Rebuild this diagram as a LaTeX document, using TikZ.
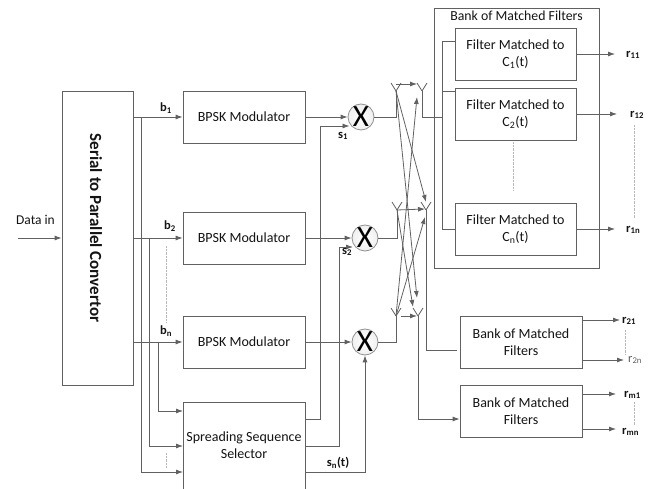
\documentclass[tikz,border=0pt]{standalone}
\usepackage{fontspec}
\setmainfont{Carlito}
\usepackage{color}
\definecolor{wiregray}{rgb}{0.38,0.38,0.38}
\definecolor{textgray}{rgb}{0.08,0.08,0.08}
\usetikzlibrary{calc,arrows.meta,positioning,shadows}
\tikzset{
	blockbox/.style={
		draw=wiregray, rectangle, thick, fill=white,
		text=textgray, align=center, inner sep=0pt,
		minimum width=122pt, minimum height=52pt,
		drop shadow={shadow xshift=0.5pt,shadow yshift=-0.8pt,fill=black!30},
		font=\fontsize{14}{17}\selectfont
	},
	mixer/.style={
		draw=wiregray!70, circle, thick, minimum size=26pt,
		inner sep=0pt, text=black, inner color=white, outer color=black!6,
		font=\fontsize{31}{31}\selectfont
	},
}

\begin{document}
\begin{tikzpicture}[x=1pt,y=-1pt,
			wire/.style={draw=wiregray, thick},
			feed/.style={wire, -{Latex[length=7pt,width=5pt]}},
			dots/.style={draw=wiregray!45, densely dotted, thin},
			tag/.style={inner sep=0pt, text=textgray, font=\fontsize{12.5}{14}\selectfont\bfseries}]
		\useasboundingbox (0,0) rectangle (649,489);
		% left column
		\node[blockbox, minimum width=71pt, minimum height=294pt] (ser) at (97.5,238) {};
		\node[tag, rotate=-90, font=\fontsize{17}{19}\selectfont\bfseries] (sertitle) at (96,228) {Serial to Parallel Convertor};
		\node[tag, font=\fontsize{13.5}{16}\selectfont] (din) at (35.5,220) {Data in};
		\coordinate (dstart) at (18,238);
		\draw[feed] (dstart) -- (dstart -| ser.west);
		\node[blockbox] (mod1) at (244,117) {BPSK Modulator};
		\node[blockbox] (mod2) at (244,238) {BPSK Modulator};
		\node[blockbox] (mod3) at (244,342) {BPSK Modulator};
		\node[blockbox, minimum height=87pt] (sel) at (244,445.5) {Spreading Sequence\\Selector};
		\node[mixer] (x1) at (361,117) {X};
		\node[mixer] (x2) at (365,238) {X};
		\node[mixer] (x3) at (365,342) {X};
		% bits into the modulators and the selector
		\draw[feed] (ser.east |- mod1) -- (mod1.west);
		\draw[feed] (ser.east |- mod2) -- (mod2.west);
		\draw[feed] (ser.east |- mod3) -- (mod3.west);
		\coordinate (in1) at (183,472);
		\coordinate (in2) at (183,446);
		\coordinate (in3) at (183,411);
		\draw[feed] (141,117) |- (in1);
		\draw[feed] (149,238) |- (in2);
		\draw[feed] (158,342) |- (in3);
		\node[tag] (b1) at (166,108) {b\textsubscript{1}};
		\node[tag] (b2) at (170,226) {b\textsubscript{2}};
		\node[tag] (bn) at (166,331) {b\textsubscript{n}};
		\draw[dots] (166,246) -- (166,322);
		\draw[dots] (166,453) -- (166,468);
		% modulators to mixers
		\draw[feed] (mod1) -- (x1);
		\draw[feed] (mod2) -- (x2);
		\draw[feed] (mod3) -- (x3);
		\coordinate (out1) at (305,419);
		\coordinate (out2) at (305,446);
		\coordinate (out3) at (305,472);
		\draw[feed] (out1) -| (320,126) -- (349.5,126);
		\draw[feed] (out2) -| (339,247) -- (353,247);
		\draw[feed] (out3) -| (x3.south);
		\node[tag] (s1) at (343,136) {s\textsubscript{1}};
		\node[tag] (s2) at (347,252) {s\textsubscript{2}};
		\node[tag] (sn) at (338,463) {s\textsubscript{n}(t)};
		% switch forks
		\coordinate (a1) at (396,91);
		\coordinate (a2) at (422,91);
		\coordinate (a3) at (397,210);
		\coordinate (a4) at (426,210);
		\coordinate (a5) at (396,316);
		\coordinate (a6) at (418,316);
		\foreach \f in {a1,a2,a3,a4,a5,a6}
			\draw[wire] (\f) -- ++(-5,-8) (\f) -- ++(5,-8);
		\draw[wire] (x1) -- (x1 -| a1) -- (a1);
		\draw[wire] (x2) -- (x2 -| a3) -- (a3);
		\draw[wire] (x3) -- (x3 -| a5) -- (a5);
		\draw[feed] (396,84) -- (417,84);
		\draw[feed] (a3) -- (425,209);
		\draw[feed] (401,316) -- (417,316);
		\draw[feed] (a1) -- (426,202);
		\draw[feed] (a1) -- (417,298);
		\draw[feed] (a3) -- (413,307);
		\draw[feed] (a5) -- (417,97);
		\draw[feed] (a5) -- (425,217);
		% matched filter bank
		\node[draw=wiregray, thick, minimum width=165pt, minimum height=260pt, inner sep=0pt] (bank) at (516.5,138) {};
		\node[tag, font=\fontsize{13.8}{16}\selectfont, below=3pt of bank.north] (banklabel) {Bank of Matched Filters};
		\node[blockbox, minimum width=121pt] (f1) at (515.5,54) {Filter Matched to\\C\textsubscript{1}(t)};
		\node[blockbox, minimum width=121pt] (f2) at (515.5,114) {Filter Matched to\\C\textsubscript{2}(t)};
		\node[blockbox, minimum width=121pt] (fn) at (515.5,229) {Filter Matched to\\C\textsubscript{n}(t)};
		\draw[dots] (513,142) -- (513,190);
		\coordinate (bus) at (442,117);
		\draw[wire] (a2) -- (a2 |- bus) -- (bus);
		\draw[wire] (f1.west |- 0,41) -| (bus |- fn) -- (fn.west);
		\draw[wire] (bus |- 0,91) -- (f2.west |- 0,91);
		\node[tag, anchor=west] (r11) at (626,55) {r\textsubscript{11}};
		\node[tag, anchor=west] (r12) at (630,115) {r\textsubscript{12}};
		\node[tag, anchor=west] (r1n) at (626,230) {r\textsubscript{1n}};
		\draw[feed] (f1.east) -- (615,54);
		\draw[feed] (f2.east) -- (617,114);
		\draw[feed] (fn.east) -- (615,229);
		\draw[dots] (634,125) -- (634,218);
		% the other two banks
		\node[blockbox] (bk2) at (521,342) {Bank of Matched\\Filters};
		\node[blockbox] (bkm) at (521,411) {Bank of Matched\\Filters};
		\draw[wire] (a4) |- (457,350);
		\draw[feed] (a6) |- (bkm.west |- 0,419);
		\node[tag, anchor=west] (r21) at (622,321) {r\textsubscript{21}};
		\node[tag, anchor=west, text=wiregray, font=\fontsize{12.5}{14}\selectfont] (r2n) at (628,360) {r\textsubscript{2n}};
		\node[tag, anchor=west] (rm1) at (624,395) {r\textsubscript{m1}};
		\node[tag, anchor=west] (rmn) at (622,432) {r\textsubscript{mn}};
		\draw[feed] (bk2.east |- 0,320) -- (620,320);
		\draw[feed] (bk2.east |- 0,360) -- (624,360);
		\draw[feed] (bkm.east |- 0,394) -- (616,394);
		\draw[feed] (bkm.east |- 0,429) -- (616,429);
		\draw[dots] (625,330) -- (625,355);
		\draw[dots] (634,402) -- (634,425);
	\end{tikzpicture}
\end{document}
